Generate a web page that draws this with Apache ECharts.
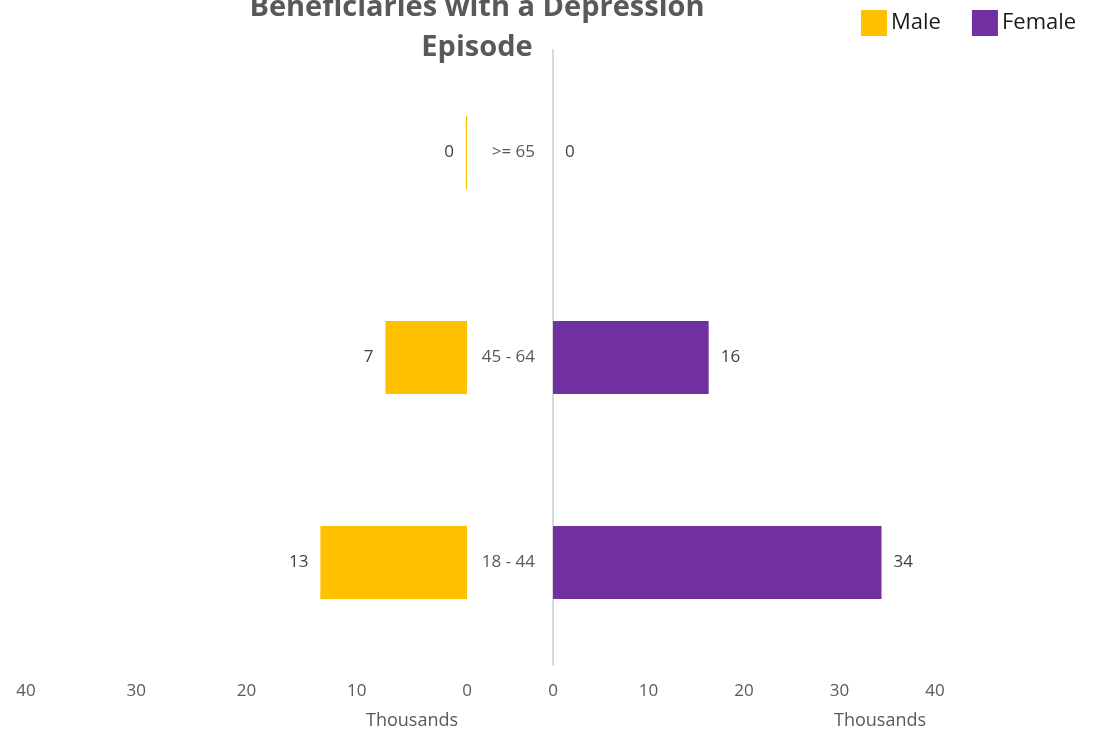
<!DOCTYPE html>
<html>
<head>
<meta charset="utf-8">
<script src="https://cdn.jsdelivr.net/npm/echarts@6/dist/echarts.min.js"></script>
<style>
  html, body { margin: 0; padding: 0; background: #fff; }
  #chart { width: 1101px; height: 732px; }
</style>
</head>
<body>
<div id="chart"></div>
<script>
// age groups, bottom to top
const ageGroups = ['18 - 44', '45 - 64', '>= 65']
// beneficiaries in thousands
const maleValues = [13.3, 7.4, 0.1]
const femaleValues = [34.4, 16.3, 0]
const axisMax = 40
const axisStep = 10

const chart = echarts.init(document.getElementById('chart'))

const font = '"Open Sans", sans-serif'
const gray = '#595959'

const option = {
    animation: false,
    title: {
        text: 'Beneficiaries with a Depression\nEpisode',
        left: 472,
        textAlign: 'center',
        top: -17,
        textStyle: {
            fontFamily: font,
            fontSize: 29,
            fontWeight: 'bold',
            color: gray,
            lineHeight: 40
        }
    },
    legend: {
        left: 856,
        top: 5,
        itemWidth: 26,
        itemHeight: 26,
        itemGap: 31,
        icon: 'rect',
        textStyle: { fontFamily: font, fontSize: 22, color: '#1a1a1a', padding: [0, 0, 0, -1] },
        data: ['Male', 'Female']
    },
    grid: [
        { left: 26, right: 634, top: 50, bottom: 67 },
        { left: 553, right: 166, top: 50, bottom: 67 }
    ],
    xAxis: [
        {
            gridIndex: 0, type: 'value', inverse: true,
            min: 0, max: axisMax, interval: axisStep,
            axisLine: { show: false }, axisTick: { show: false },
            splitLine: { show: false },
            axisLabel: { fontFamily: font, fontSize: 17, color: gray, margin: 18 }
        },
        {
            gridIndex: 1, type: 'value',
            min: 0, max: axisMax, interval: axisStep,
            axisLine: { show: false }, axisTick: { show: false },
            splitLine: { show: false },
            axisLabel: { fontFamily: font, fontSize: 17, color: gray, margin: 18 }
        }
    ],
    yAxis: [
        {
            gridIndex: 0, type: 'category', data: ageGroups,
            position: 'right',
            axisLine: { show: false }, axisTick: { show: false },
            axisLabel: { show: false }
        },
        {
            gridIndex: 1, type: 'category', data: ageGroups,
            axisLine: { show: true, lineStyle: { color: '#d9d9d9', width: 2 } },
            axisTick: { show: false },
            axisLabel: { fontFamily: font, fontSize: 17, color: gray, margin: 18 }
        }
    ],
    graphic: [
        {
            type: 'text', x: 412, y: 721,
            style: { text: 'Thousands', fontFamily: font, fontSize: 18, fill: gray, align: 'center', verticalAlign: 'middle' }
        },
        {
            type: 'text', x: 880, y: 721,
            style: { text: 'Thousands', fontFamily: font, fontSize: 18, fill: gray, align: 'center', verticalAlign: 'middle' }
        }
    ],
    series: [
        {
            name: 'Male', type: 'bar',
            xAxisIndex: 0, yAxisIndex: 0,
            data: maleValues,
            barWidth: '35.5%',
            itemStyle: { color: '#ffc000' },
            label: {
                show: true, position: 'left', distance: 12,
                fontFamily: font, fontSize: 17, color: '#404040',
                formatter: p => Math.round(p.value)
            }
        },
        {
            name: 'Female', type: 'bar',
            xAxisIndex: 1, yAxisIndex: 1,
            data: femaleValues,
            barWidth: '35.5%',
            itemStyle: { color: '#7030a0' },
            label: {
                show: true, position: 'right', distance: 12,
                fontFamily: font, fontSize: 17, color: '#404040',
                formatter: p => Math.round(p.value)
            }
        }
    ]
}

chart.setOption(option)
</script>
</body>
</html>
